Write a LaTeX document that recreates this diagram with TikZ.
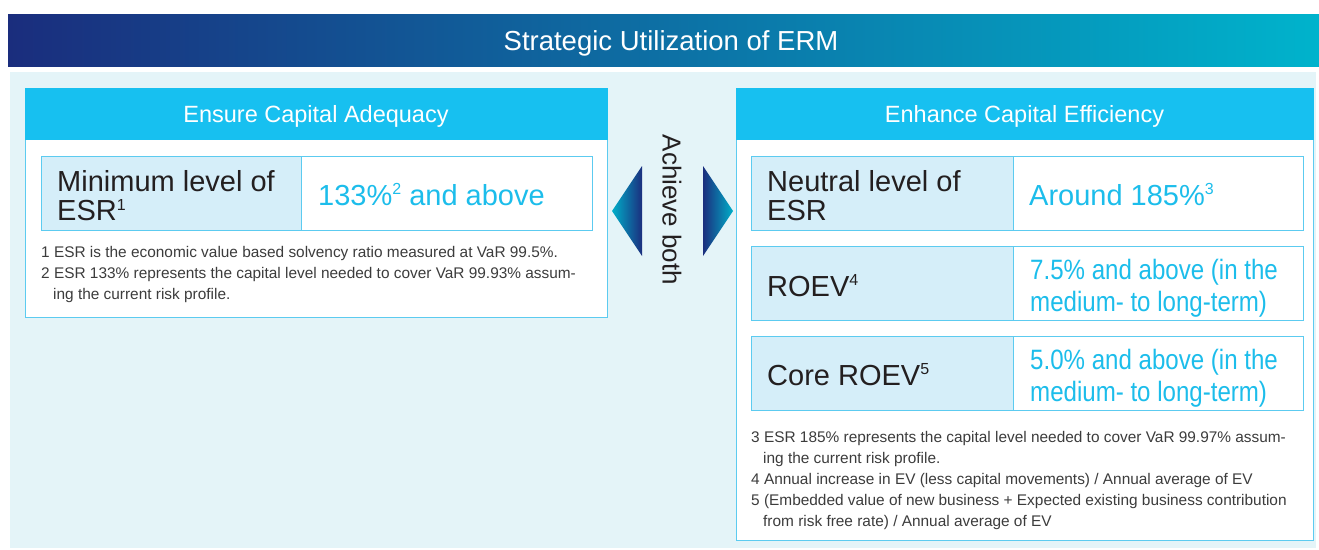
\documentclass[tikz,border=0pt]{standalone}
\usepackage{fontspec}
\setmainfont{Liberation Sans}
\newfontfamily\condfont[FakeStretch=0.86]{Liberation Sans}
\usetikzlibrary{calc}

\definecolor{titleL}{HTML}{1A2D7D}
\definecolor{titleM}{HTML}{0A64A0}
\definecolor{titleR}{HTML}{00B3CC}
\definecolor{bgLight}{HTML}{E4F4F8}
\definecolor{headCyan}{HTML}{17C0F0}
\definecolor{lineCyan}{HTML}{5CCBF0}
\definecolor{cellBlue}{HTML}{D5EEF9}
\definecolor{inkDark}{HTML}{231F20}
\definecolor{inkCyan}{HTML}{1CBDEB}
\definecolor{noteGray}{HTML}{3C3C3C}
\definecolor{arrowTeal}{HTML}{00AFC9}
\definecolor{arrowMid}{HTML}{1560A0}
\definecolor{arrowNavy}{HTML}{1B2E7E}

% small raised footnote marks
\newcommand{\sups}[1]{\raisebox{0.37em}{\fontsize{16}{16}\selectfont #1}}

\begin{document}
\begin{tikzpicture}[x=1pt,y=-1pt,
  box/.style={anchor=north west, inner sep=0pt, outer sep=0pt},
  headbox/.style={box, fill=headCyan, draw=headCyan, line width=1pt,
    minimum height=51pt, text=white,
    font=\fontsize{23.5}{28}\selectfont, text height=17pt, text depth=0pt},
  bodybox/.style={box, fill=white, draw=lineCyan, line width=1pt},
  keycell/.style={box, fill=cellBlue, draw=lineCyan, line width=1pt, minimum height=74pt},
  valcell/.style={box, fill=white, draw=lineCyan, line width=1pt, minimum height=74pt},
  keytext/.style={inner sep=0pt, align=left, text=inkDark, font=\fontsize{29}{29}\selectfont},
  valtext/.style={inner sep=0pt, align=left, text=inkCyan, font=\fontsize{29}{29}\selectfont},
  condtext/.style={inner sep=0pt, align=left, text=inkCyan, font=\condfont\fontsize{28}{32}\selectfont},
  notes/.style={anchor=north west, inner sep=0pt, align=left, text=noteGray,
    font=\fontsize{15.4}{21}\selectfont},
]
\useasboundingbox (0,0) rectangle (1319,549);
\fill[white] (0,0) rectangle (1319,549);

% title bar
\shade[left color=titleL, middle color=titleM, right color=titleR] (8,14) rectangle (1319,66);
\node[anchor=base, inner sep=0pt, text=white, font=\fontsize{27.5}{30}\selectfont] (title) at (671,50) {Strategic Utilization of ERM};

% light background
\fill[bgLight] (10,72) rectangle (1316,548);

% left panel
\node[bodybox, minimum width=582pt, minimum height=229pt] (lbody) at (25,88) {};
\node[headbox, minimum width=582pt] (lhead) at (25,88) {Ensure Capital Adequacy};
\node[keycell, minimum width=260pt] (lkey) at (41,156) {};
\node[valcell, minimum width=291pt] (lval) at (301,156) {};
\node[keytext, anchor=west] (lkeyt) at (57,196) {Minimum level of\\ESR\sups{1}};
\node[valtext, anchor=base west] (lvalt) at (318,205) {133\%\sups{2} and above};
\node[notes] (lnotes) at (41,246) {1 ESR is the economic value based solvency ratio measured at VaR 99.5\%.\\
2 ESR 133\% represents the capital level needed to cover VaR 99.93\% assum-\\
\hspace*{12pt}ing the current risk profile.};

% right panel
\node[bodybox, minimum width=577pt, minimum height=452pt] (rbody) at (736,88) {};
\node[headbox, minimum width=577pt] (rhead) at (736,88) {Enhance Capital Efficiency};

\node[keycell, minimum width=262pt] (k1) at (751,156) {};
\node[valcell, minimum width=290pt] (v1) at (1013,156) {};
\node[keycell, minimum width=262pt] (k2) at (751,246) {};
\node[valcell, minimum width=290pt] (v2) at (1013,246) {};
\node[keycell, minimum width=262pt] (k3) at (751,336) {};
\node[valcell, minimum width=290pt] (v3) at (1013,336) {};

\node[keytext, anchor=west] (k1t) at (767,196) {Neutral level of\\ESR};
\node[valtext, anchor=base west] (v1t) at (1029,205) {Around 185\%\sups{3}};
\node[keytext, anchor=base west] (k2t) at (767,296) {ROEV\sups{4}};
\node[condtext, anchor=west] (v2t) at (1030,288) {7.5\% and above (in the\\medium- to long-term)};
\node[keytext, anchor=base west] (k3t) at (767,385) {Core ROEV\sups{5}};
\node[condtext, anchor=west] (v3t) at (1030,378) {5.0\% and above (in the\\medium- to long-term)};

\node[notes] (rnotes) at (751,431) {3 ESR 185\% represents the capital level needed to cover VaR 99.97\% assum-\\
\hspace*{12pt}ing the current risk profile.\\
4 Annual increase in EV (less capital movements) / Annual average of EV\\
5 (Embedded value of new business + Expected existing business contribution\\
\hspace*{12pt}from risk free rate) / Annual average of EV};

% "achieve both" arrows
\coordinate (ltip) at (612,211);
\coordinate (rtip) at (733,211);
\shade[left color=arrowTeal, middle color=arrowMid, right color=arrowNavy]
  (ltip) -- (642,166) -- (642,256) -- cycle;
\shade[left color=arrowNavy, middle color=arrowMid, right color=arrowTeal]
  (rtip) -- (703,256) -- (703,166) -- cycle;
\node[rotate=-90, inner sep=0pt, text=inkDark, font=\fontsize{26}{26}\selectfont] (both) at (672,210) {Achieve both};
\end{tikzpicture}
\end{document}
